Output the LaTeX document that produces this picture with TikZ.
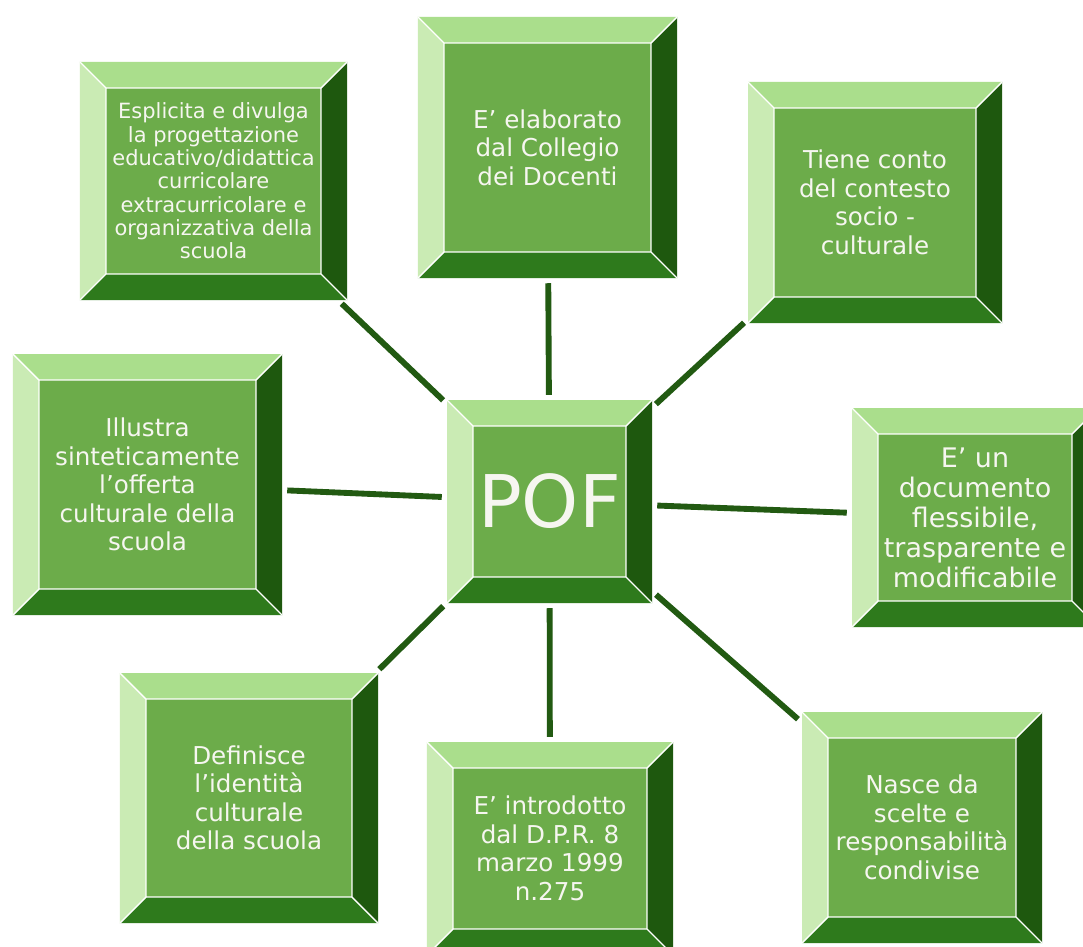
\documentclass[tikz,border=0pt]{standalone}
\usepackage{fontspec}
\setmainfont{DejaVu Sans}
\usetikzlibrary{calc}
\usepackage{xcolor}

\definecolor{facegreen}{RGB}{108,172,74}
\definecolor{topgreen}{RGB}{170,222,140}
\definecolor{leftgreen}{RGB}{202,235,180}
\definecolor{rightgreen}{RGB}{30,88,14}
\definecolor{bottomgreen}{RGB}{46,122,28}
\definecolor{linkgreen}{RGB}{34,90,18}
\definecolor{textwhite}{RGB}{246,246,240}
\newcommand{\bevw}{0.78cm}

\begin{document}
\begin{tikzpicture}[
    x=0.03cm, y=-0.03cm,
    bevel/.style={rectangle, inner sep=0pt, align=center, text=textwhite,
        font=\fontsize{21}{24.3}\selectfont,
        path picture={
            \path (path picture bounding box.north west) coordinate (nw)
                  (path picture bounding box.north east) coordinate (ne)
                  (path picture bounding box.south west) coordinate (sw)
                  (path picture bounding box.south east) coordinate (se);
            \path ($(nw)+(\bevw,-\bevw)$) coordinate (inw)
                  ($(ne)+(-\bevw,-\bevw)$) coordinate (ine)
                  ($(sw)+(\bevw,\bevw)$) coordinate (isw)
                  ($(se)+(-\bevw,\bevw)$) coordinate (ise);
            \fill[topgreen] (nw) -- (ne) -- (ine) -- (inw) -- cycle;
            \fill[leftgreen] (nw) -- (inw) -- (isw) -- (sw) -- cycle;
            \fill[rightgreen] (ne) -- (se) -- (ise) -- (ine) -- cycle;
            \fill[bottomgreen] (sw) -- (isw) -- (ise) -- (se) -- cycle;
            \fill[facegreen] (inw) rectangle (ise);
            \draw[white, line width=1.2pt] (inw) rectangle (ise)
                (nw) -- (inw) (ne) -- (ine) (sw) -- (isw) (se) -- (ise);
        }},
    link/.style={line width=5pt, color=linkgreen, shorten <=0.15cm, shorten >=0.15cm}
]
\clip (0,0) rectangle (1083,947);
\fill[white] (0,0) rectangle (1083,947);

\node[bevel, minimum width=6.15cm, minimum height=6.09cm, font=\fontsize{62}{70}\selectfont] (pof) at (549.5,501.5) {POF};

\node[bevel, minimum width=8.01cm, minimum height=7.14cm, font=\fontsize{17.9}{19.9}\selectfont] (progetto) at (213.5,181) {Esplicita e divulga\\la progettazione\\educativo/didattica\\curricolare\\extracurricolare e\\organizzativa della\\scuola};
\node[bevel, minimum width=7.77cm, minimum height=7.83cm] (collegio) at (547.5,147.5) {E’ elaborato\\dal Collegio\\dei Docenti};
\node[bevel, minimum width=7.62cm, minimum height=7.23cm] (contesto) at (875,202.5) {Tiene conto\\del contesto\\socio -\\culturale};
\node[bevel, minimum width=8.07cm, minimum height=7.83cm] (offerta) at (147.5,484.5) {Illustra\\sinteticamente\\l’offerta\\culturale della\\scuola};
\node[bevel, minimum width=7.38cm, minimum height=6.57cm, font=\fontsize{23}{25.6}\selectfont] (flessibile) at (975,517.5) {E’ un\\documento\\flessibile,\\trasparente e\\modificabile};
\node[bevel, minimum width=7.74cm, minimum height=7.50cm] (identita) at (249,798) {Definisce\\l’identità\\culturale\\della scuola};
\node[bevel, minimum width=7.38cm, minimum height=6.39cm] (dpr) at (550,848.5) {E’ introdotto\\dal D.P.R. 8\\marzo 1999\\n.275};
\node[bevel, minimum width=7.20cm, minimum height=6.93cm] (scelte) at (922,827.5) {Nasce da\\scelte e\\responsabilità\\condivise};

\draw[link] (progetto) -- (pof);
\draw[link] (collegio) -- (pof);
\draw[link] (contesto) -- (pof);
\draw[link] (offerta) -- (pof);
\draw[link] (flessibile) -- (pof);
\draw[link] (identita) -- (pof);
\draw[link] (dpr) -- (pof);
\draw[link] (scelte) -- (pof);

\end{tikzpicture}
\end{document}
